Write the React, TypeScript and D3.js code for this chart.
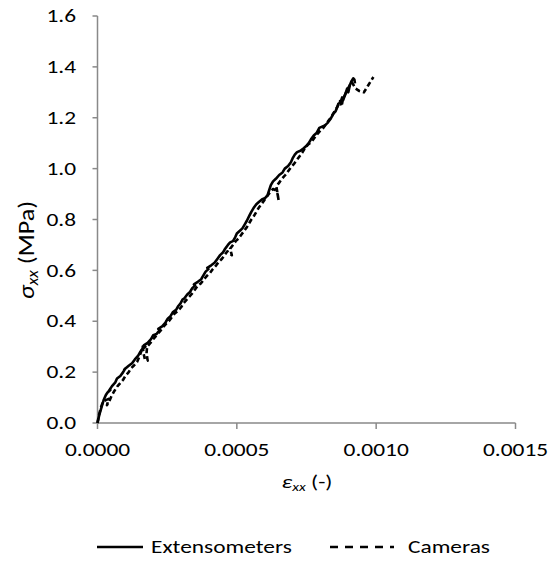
import React from "react";
import * as d3 from "d3";

// Extensometers series: strain (-) and stress (MPa)
const extStrain = [0, 0.000006, 0.000014, 0.000022, 0.00003, 0.000036, 0.000046, 0.00004, 0.000052, 0.000064, 0.00007, 0.000082, 0.000092, 0.0001, 0.000096, 0.000112, 0.000124, 0.000134, 0.000146, 0.000154, 0.00016, 0.000172, 0.000166, 0.00018, 0.000192, 0.0002, 0.000212, 0.000222, 0.000218, 0.000232, 0.000244, 0.000252, 0.000262, 0.00027, 0.000282, 0.00029, 0.000298, 0.000305, 0.000312, 0.000322, 0.000332, 0.00034, 0.00035, 0.000346, 0.00036, 0.000372, 0.00038, 0.000388, 0.000398, 0.000394, 0.000408, 0.00042, 0.00043, 0.00044, 0.00045, 0.000458, 0.000468, 0.000476, 0.000486, 0.000494, 0.0005, 0.00051, 0.00052, 0.000528, 0.000536, 0.000545, 0.000552, 0.00056, 0.00057, 0.00058, 0.000592, 0.000602, 0.00061, 0.000616, 0.000622, 0.00063, 0.00064, 0.000652, 0.000664, 0.000672, 0.000684, 0.000694, 0.0007, 0.000708, 0.000716, 0.000728, 0.00074, 0.00075, 0.000758, 0.000766, 0.000776, 0.000786, 0.000796, 0.000806, 0.000816, 0.000826, 0.000836, 0.000846, 0.000854, 0.00086, 0.000864, 0.000872, 0.000878, 0.000882, 0.00089, 0.000896, 0.0009, 0.000906, 0.000912, 0.000918, 0.000922, 0.000924];
const extStress = [0, 0.03, 0.06, 0.09, 0.11, 0.12, 0.13, 0.125, 0.145, 0.16, 0.175, 0.185, 0.2, 0.215, 0.21, 0.225, 0.235, 0.25, 0.265, 0.28, 0.29, 0.3, 0.305, 0.315, 0.33, 0.345, 0.35, 0.365, 0.37, 0.38, 0.395, 0.41, 0.42, 0.435, 0.445, 0.46, 0.47, 0.485, 0.49, 0.505, 0.515, 0.53, 0.54, 0.545, 0.555, 0.565, 0.58, 0.595, 0.605, 0.61, 0.62, 0.63, 0.645, 0.66, 0.67, 0.685, 0.7, 0.71, 0.715, 0.73, 0.745, 0.755, 0.765, 0.78, 0.795, 0.815, 0.83, 0.845, 0.86, 0.87, 0.88, 0.885, 0.895, 0.915, 0.935, 0.95, 0.96, 0.975, 0.985, 1.0, 1.01, 1.025, 1.04, 1.055, 1.065, 1.07, 1.08, 1.09, 1.1, 1.115, 1.13, 1.14, 1.16, 1.165, 1.17, 1.18, 1.195, 1.215, 1.225, 1.24, 1.255, 1.26, 1.28, 1.27, 1.295, 1.315, 1.3, 1.33, 1.345, 1.355, 1.35, 1.335];

// Cameras series: strain (-) and stress (MPa)
const camStrain = [0, 0.000005, 0.000012, 0.00002, 0.00003, 0.00004, 0.000034, 0.000042, 0.00005, 0.00006, 0.000072, 0.00008, 0.000092, 0.0001, 0.000112, 0.00012, 0.00013, 0.000142, 0.00015, 0.000158, 0.000162, 0.000166, 0.00017, 0.00018, 0.000176, 0.000178, 0.00019, 0.0002, 0.000212, 0.000224, 0.000234, 0.000246, 0.000256, 0.000266, 0.000276, 0.000288, 0.0003, 0.000308, 0.00032, 0.000332, 0.00034, 0.00035, 0.00036, 0.000372, 0.000382, 0.000394, 0.000404, 0.000414, 0.000426, 0.000436, 0.000446, 0.000456, 0.000466, 0.000476, 0.000482, 0.000476, 0.000486, 0.000496, 0.000506, 0.000516, 0.000526, 0.000536, 0.000544, 0.000552, 0.000562, 0.00057, 0.000578, 0.000588, 0.000598, 0.000608, 0.000618, 0.00063, 0.00064, 0.000646, 0.00065, 0.000642, 0.000652, 0.000662, 0.000674, 0.000684, 0.000694, 0.000706, 0.000716, 0.000726, 0.000736, 0.000744, 0.000756, 0.000768, 0.000778, 0.000788, 0.0008, 0.00081, 0.00082, 0.00083, 0.00084, 0.000848, 0.000856, 0.000864, 0.00087, 0.000876, 0.00088, 0.000888, 0.000896, 0.000904, 0.000912, 0.000918, 0.000926, 0.00094, 0.000956, 0.00097, 0.00099];
const camStress = [0, 0.03, 0.06, 0.085, 0.09, 0.095, 0.07, 0.085, 0.105, 0.125, 0.145, 0.155, 0.17, 0.185, 0.2, 0.215, 0.225, 0.24, 0.26, 0.285, 0.3, 0.27, 0.25, 0.245, 0.275, 0.3, 0.315, 0.33, 0.345, 0.36, 0.375, 0.39, 0.4, 0.415, 0.43, 0.44, 0.455, 0.47, 0.485, 0.5, 0.51, 0.525, 0.54, 0.55, 0.565, 0.58, 0.59, 0.605, 0.62, 0.635, 0.645, 0.66, 0.675, 0.665, 0.66, 0.685, 0.7, 0.715, 0.725, 0.74, 0.755, 0.77, 0.785, 0.8, 0.815, 0.83, 0.845, 0.86, 0.875, 0.89, 0.905, 0.92, 0.915, 0.9, 0.875, 0.93, 0.945, 0.96, 0.975, 0.99, 1.005, 1.02, 1.035, 1.05, 1.065, 1.08, 1.095, 1.105, 1.12, 1.135, 1.15, 1.16, 1.175, 1.19, 1.205, 1.22, 1.235, 1.25, 1.265, 1.245, 1.27, 1.29, 1.31, 1.325, 1.34, 1.33, 1.315, 1.305, 1.3, 1.325, 1.36];

const xTicks = [0, 0.0005, 0.001, 0.0015];
const xTickLabels = ["0.0000", "0.0005", "0.0010", "0.0015"];
const yTicks = [0, 0.2, 0.4, 0.6, 0.8, 1.0, 1.2, 1.4, 1.6];
const yTickLabels = ["0.0", "0.2", "0.4", "0.6", "0.8", "1.0", "1.2", "1.4", "1.6"];
const legendLabels = ["Extensometers", "Cameras"];

const FONT = "Carlito, Calibri, 'Open Sans', sans-serif";
const FS = 18;
const SX = 1.3;
const AXIS = "#898989";
const LW = 2.6;

export default function App() {
  const x = d3.scaleLinear().domain([0, 0.0015]).range([97.5, 515.5]);
  const y = d3.scaleLinear().domain([0, 1.6]).range([423, 16]);
  const line = d3
    .line<[number, number]>()
    .x((d) => x(d[0]))
    .y((d) => y(d[1]));
  const ext = extStrain.map((s, i) => [s, extStress[i]] as [number, number]);
  const cam = camStrain.map((s, i) => [s, camStress[i]] as [number, number]);

  return (
    <svg
      width={550}
      height={567}
      style={{ position: "absolute", left: 0, top: 0, background: "#fff" }}
    >
      {/* axes */}
      <line x1={x(0)} x2={x(0)} y1={y(1.6)} y2={y(0)} stroke={AXIS} strokeWidth={1.5} />
      <line x1={x(0)} x2={x(0.0015)} y1={y(0)} y2={y(0)} stroke={AXIS} strokeWidth={1.5} />
      {yTicks.map((t, i) => (
        <g key={"y" + i}>
          <line x1={x(0) - 5} x2={x(0)} y1={y(t)} y2={y(t)} stroke={AXIS} strokeWidth={1.5} />
          <g transform={`translate(76,${y(t) + 6.2}) scale(${SX},1)`}>
            <text textAnchor="end" fontFamily={FONT} fontSize={FS} fill="#000">
              {yTickLabels[i]}
            </text>
          </g>
        </g>
      ))}
      {xTicks.map((t, i) => (
        <g key={"x" + i}>
          <line x1={x(t)} x2={x(t)} y1={y(0)} y2={y(0) + 6} stroke={AXIS} strokeWidth={1.5} />
          <g transform={`translate(${x(t)},456) scale(${SX},1)`}>
            <text textAnchor="middle" fontFamily={FONT} fontSize={FS} fill="#000">
              {xTickLabels[i]}
            </text>
          </g>
        </g>
      ))}
      {/* x title */}
      <g transform={`translate(307,488) scale(${SX},1)`}>
        <text textAnchor="middle" fontFamily={FONT} fontSize={FS} fill="#000">
          <tspan fontStyle="italic">ε</tspan>
          <tspan fontStyle="italic" fontSize={12} dy={3}>xx</tspan>
          <tspan dy={-3}> (-)</tspan>
        </text>
      </g>
      {/* y title */}
      <g transform={`translate(34,250) rotate(-90) scale(1.45,${SX})`}>
        <text textAnchor="middle" fontFamily={FONT} fontSize={FS} fill="#000">
          <tspan fontStyle="italic">σ</tspan>
          <tspan fontStyle="italic" fontSize={12} dy={3}>xx</tspan>
          <tspan dy={-3}> (MPa)</tspan>
        </text>
      </g>
      {/* series */}
      <path d={line(cam) || ""} fill="none" stroke="#000" strokeWidth={LW} strokeDasharray="5,3" strokeLinejoin="round" />
      <path d={line(ext) || ""} fill="none" stroke="#000" strokeWidth={LW} strokeLinejoin="round" />
      {/* legend */}
      <line x1={97} x2={143} y1={547} y2={547} stroke="#000" strokeWidth={LW} />
      <g transform={`translate(151,553) scale(${SX},1)`}>
        <text fontFamily={FONT} fontSize={FS} fill="#000">{legendLabels[0]}</text>
      </g>
      <line x1={330} x2={394} y1={547} y2={547} stroke="#000" strokeWidth={LW} strokeDasharray="8,7" />
      <g transform={`translate(408,553) scale(${SX},1)`}>
        <text fontFamily={FONT} fontSize={FS} fill="#000">{legendLabels[1]}</text>
      </g>
    </svg>
  );
}
